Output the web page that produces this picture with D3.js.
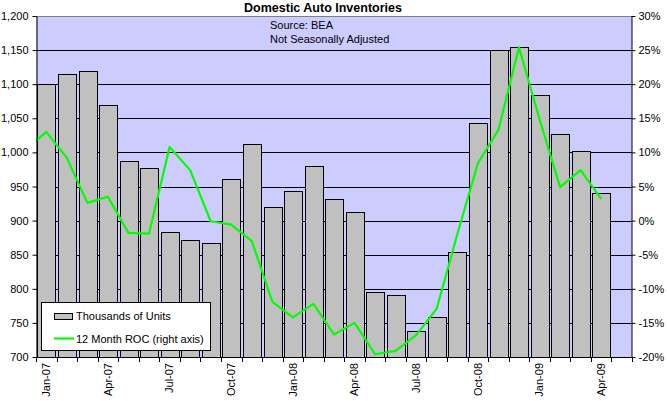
<!DOCTYPE html>
<html><head><meta charset="utf-8">
<script src="https://cdn.jsdelivr.net/npm/d3@7"></script>
<style>body{margin:0;background:#fff} text{font-family:"Liberation Sans",Arial,sans-serif;fill:#000}</style>
</head><body>
<svg id="c" width="667" height="401"></svg>
<script>
const months = ["Jan-07","Feb-07","Mar-07","Apr-07","May-07","Jun-07","Jul-07","Aug-07","Sep-07","Oct-07","Nov-07","Dec-07",
  "Jan-08","Feb-08","Mar-08","Apr-08","May-08","Jun-08","Jul-08","Aug-08","Sep-08","Oct-08","Nov-08","Dec-08",
  "Jan-09","Feb-09","Mar-09","Apr-09","May-09"];
const labelMonths = ["Jan-07","Apr-07","Jul-07","Oct-07","Jan-08","Apr-08","Jul-08","Oct-08","Jan-09","Apr-09"];
const units = [1101,1115,1119,1070,988,977,884,871,867,961,1012,920,
  944,980,932,912,795,791,738,758,854,1043,1150,1154,1084,1027,1002,941];
const roc = [13.0,9.2,2.6,3.5,-1.8,-1.9,10.8,7.4,-0.1,-0.6,-3.0,-11.9,
  -14.2,-12.2,-16.7,-15.0,-19.6,-19.1,-16.8,-12.9,-2.0,8.4,13.3,25.4,14.9,4.9,7.4,3.2];
const rocPrior = 10.4; // Dec-06 value, only its segment into Jan-07 is visible
const leftTicks = [700,750,800,850,900,950,1000,1050,1100,1150,1200];
const rightTicks = [-20,-15,-10,-5,0,5,10,15,20,25,30];
const titleText = "Domestic Auto Inventories";
const noteLines = ["Source: BEA","Not Seasonally Adjusted"];
const legendNames = ["Thousands of Units","12 Month ROC (right axis)"];

const svg = d3.select("#c");
const P = {l:36, r:632, t:16, b:357};

const x = d3.scaleBand().domain(months).range([P.l, P.r]).paddingInner(0.14).paddingOuter(0.07);
const y = d3.scaleLinear().domain([700,1200]).range([P.b, P.t]);
const y2 = d3.scaleLinear().domain([-20,30]).range([P.b, P.t]);
const step = x.step();
const cx = m => x(m) + x.bandwidth()/2;

// plot background
svg.append("rect").attr("x",P.l).attr("y",P.t).attr("width",P.r-P.l).attr("height",P.b-P.t).attr("fill","#CCCCFF");

// gridlines
svg.append("g").selectAll("line").data(leftTicks.filter(v=>v>700 && v<1200)).join("line")
  .attr("x1",P.l).attr("x2",P.r).attr("y1",d=>Math.round(y(d))+0.5).attr("y2",d=>Math.round(y(d))+0.5)
  .attr("stroke","#000").attr("stroke-width",1);
svg.append("line").attr("x1",P.l).attr("x2",P.r).attr("y1",P.t+0.5).attr("y2",P.t+0.5).attr("stroke","#808080");

// bars
svg.append("g").selectAll("rect").data(units).join("rect")
  .attr("x",(d,i)=>Math.round(x(months[i]))+0.5)
  .attr("y",d=>Math.round(y(d))+0.5)
  .attr("width",Math.round(x.bandwidth()))
  .attr("height",d=>P.b-Math.round(y(d)))
  .attr("fill","#C0C0C0").attr("stroke","#000").attr("stroke-width",1);

// line (clipped to plot)
svg.append("clipPath").attr("id","pc").append("rect")
  .attr("x",P.l).attr("y",P.t).attr("width",P.r-P.l).attr("height",P.b-P.t);
const linePts = [[cx(months[0])-step, y2(rocPrior)]].concat(roc.map((v,i)=>[cx(months[i]), y2(v)]));
svg.append("path").attr("clip-path","url(#pc)").attr("d",d3.line()(linePts))
  .attr("fill","none").attr("stroke","#00FF00").attr("stroke-width",2.2).attr("stroke-linejoin","round");

// left axis
const la = svg.append("g").attr("transform",`translate(${P.l+0.5},0)`)
  .call(d3.axisLeft(y).tickValues(leftTicks).tickFormat(d3.format(",")).tickSize(4).tickSizeOuter(0).tickPadding(4));
la.selectAll("text").style("font-size","11px");
la.selectAll("line,path").attr("stroke","#000");

// right axis
const ra = svg.append("g").attr("transform",`translate(${P.r-0.5},0)`)
  .call(d3.axisRight(y2).tickValues(rightTicks).tickFormat(d=>d+"%").tickSize(4).tickSizeOuter(0).tickPadding(3));
ra.selectAll("text").style("font-size","11px");
ra.selectAll("line,path").attr("stroke","#000");

// bottom axis
svg.append("line").attr("x1",P.l).attr("x2",P.r).attr("y1",P.b+0.5).attr("y2",P.b+0.5).attr("stroke","#000");
const bounds = months.map(m => x(m) - (step - x.bandwidth())/2).concat([P.r]);
svg.append("g").selectAll("line").data(bounds).join("line")
  .attr("x1",d=>Math.round(d)+0.5).attr("x2",d=>Math.round(d)+0.5).attr("y1",P.b).attr("y2",P.b+5)
  .attr("stroke","#000");
svg.append("g").selectAll("text").data(labelMonths).join("text")
  .attr("transform",d=>`translate(${cx(d)},${P.b+6}) rotate(-90)`)
  .attr("text-anchor","end").attr("dy","0.35em").style("font-size","11px").text(d=>d);

// title and notes
svg.append("text").attr("x",323).attr("y",12).attr("text-anchor","middle")
  .style("font-size","12.5px").style("font-weight","bold").text(titleText);
svg.append("g").selectAll("text").data(noteLines).join("text")
  .attr("x",270).attr("y",(d,i)=>29+i*14).style("font-size","11px").text(d=>d);

// legend
const lg = svg.append("g");
lg.append("rect").attr("x",41.5).attr("y",302.5).attr("width",169).attr("height",48).attr("fill","#fff").attr("stroke","#000");
lg.append("rect").attr("x",54.5).attr("y",313.5).attr("width",18).attr("height",6).attr("fill","#C0C0C0").attr("stroke","#000");
lg.append("line").attr("x1",54).attr("x2",74).attr("y1",338.5).attr("y2",338.5).attr("stroke","#00FF00").attr("stroke-width",2.2);
lg.selectAll("text.l").data(legendNames).join("text").attr("class","l")
  .attr("x",76).attr("y",(d,i)=>320+i*22.5).style("font-size","11px").text(d=>d);
</script>
</body></html>
